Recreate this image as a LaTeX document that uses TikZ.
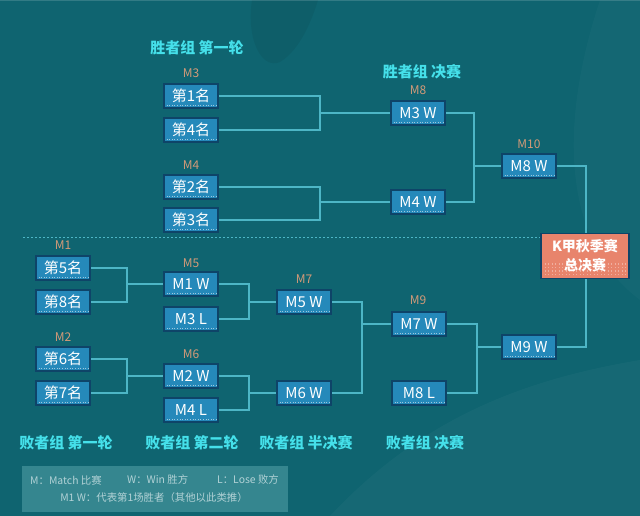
\documentclass[tikz,border=0pt]{standalone}
\usepackage{fontspec}
\setmainfont{Noto Sans CJK SC}
\usetikzlibrary{calc}
\definecolor{bg}{HTML}{0F6470}
\definecolor{boxfill}{HTML}{2589BA}
\definecolor{boxedge}{HTML}{0E4468}
\definecolor{conncol}{HTML}{4DB6C6}
\definecolor{lblcol}{HTML}{D39A78}
\definecolor{titlecol}{HTML}{45E0EA}
\definecolor{finalcol}{HTML}{E8846C}
\definecolor{legfill}{HTML}{3C8C95}
\definecolor{legtext}{HTML}{B2D2D6}
\tikzset{
  team/.style={draw=boxedge, line width=1.6pt, fill=boxfill, text=white,
    minimum width=54pt, minimum height=24pt, inner sep=0pt,
    font=\fontsize{15}{16}\selectfont,
    path picture={\draw[white, opacity=0.55, dotted, line width=0.6pt]
      ([yshift=2.5pt]path picture bounding box.south west) -- ([yshift=2.5pt]path picture bounding box.south east);}},
  mlabel/.style={text=lblcol, font=\fontsize{12}{13}\selectfont, inner sep=0pt},
  title/.style={text=titlecol, font=\fontsize{15}{16}\selectfont\bfseries, inner sep=0pt},
  conn/.style={draw=conncol, line width=1.1pt},
  legtxt/.style={text=legtext, font=\fontsize{10.4}{12}\selectfont, inner sep=0pt},
}
\begin{document}
\begin{tikzpicture}[x=1pt, y=-1pt]
\fill[bg] (0,0) rectangle (640,516);
\useasboundingbox (0,0) rectangle (640,516);
% decorative background shapes
\fill[black, opacity=0.06] (252,0) .. controls (246,40) and (262,70) .. (280,62) .. controls (300,50) and (312,20) .. (318,0) -- cycle;
\fill[white, opacity=0.03] (330,516) .. controls (420,420) and (520,380) .. (640,360) -- (640,516) -- cycle;
\fill[white, opacity=0.025] (600,0) .. controls (560,120) and (560,240) .. (640,300) -- (640,0) -- cycle;
\draw[white, opacity=0.15, line width=1pt] (0,0.5) -- (640,0.5);

% dashed separator
\draw[conncol, line width=0.7pt, dash pattern=on 2pt off 2pt] (23,237) -- (541,237);

% titles
\node[title] (tw1) at (197,48) {胜者组 第一轮};
\node[title] (twf) at (422,72) {胜者组 决赛};
\node[title] (tl1) at (66,443) {败者组 第一轮};
\node[title] (tl2) at (192,443) {败者组 第二轮};
\node[title] (tl3) at (306,443) {败者组 半决赛};
\node[title] (tl4) at (425,443) {败者组 决赛};

% match labels
\node[mlabel] (lm3) at (191,73) {M3};
\node[mlabel] (lm4) at (191,165) {M4};
\node[mlabel] (lm8) at (418,90) {M8};
\node[mlabel] (lm10) at (529,144) {M10};
\node[mlabel] (lm1) at (63,245) {M1};
\node[mlabel] (lm2) at (63,337) {M2};
\node[mlabel] (lm5) at (191,263) {M5};
\node[mlabel] (lm6) at (191,354) {M6};
\node[mlabel] (lm7) at (304,279) {M7};
\node[mlabel] (lm9) at (418,300) {M9};

% winners bracket boxes
\node[team] (p1) at (191,96) {第1名};
\node[team] (p4) at (191,130) {第4名};
\node[team] (p2) at (191,187) {第2名};
\node[team] (p3) at (191,220) {第3名};
\node[team] (m3w) at (418,113) {M3 W};
\node[team] (m4w) at (418,202) {M4 W};
\node[team] (m8w) at (529,166) {M8 W};

% losers bracket boxes
\node[team] (p5) at (63,268) {第5名};
\node[team] (p8) at (63,302) {第8名};
\node[team] (p6) at (63,359) {第6名};
\node[team] (p7) at (63,393) {第7名};
\node[team] (m1w) at (191,284) {M1 W};
\node[team] (m3l) at (191,319) {M3 L};
\node[team] (m2w) at (191,376) {M2 W};
\node[team] (m4l) at (191,410) {M4 L};
\node[team] (m5w) at (304,302) {M5 W};
\node[team] (m6w) at (304,393) {M6 W};
\node[team] (m7w) at (419,324) {M7 W};
\node[team] (m8l) at (419,393) {M8 L};
\node[team] (m9w) at (529,347) {M9 W};

% final
\node[draw=boxedge, line width=1.2pt, fill=finalcol, text=white,
  minimum width=88pt, minimum height=45pt, inner sep=0pt, align=center,
  font=\fontsize{14}{19}\selectfont\bfseries,
  path picture={
    \foreach \yy in {4,7.5,11,14.5}{
      \draw[white, opacity=0.35, line width=1.1pt, dash pattern=on 1.1pt off 2.4pt]
        ([yshift=\yy pt]path picture bounding box.south west) -- ([yshift=\yy pt]path picture bounding box.south east);}
  }] (final) at (585,256) {K甲秋季赛\\总决赛};

% connectors - winners
\coordinate (j1) at (320,113);
\coordinate (j2) at (320,202);
\coordinate (j3) at (474,166);
\draw[conn] (p1.east) -| (j1) |- (p4.east);
\draw[conn] (j1) -- (m3w.west);
\draw[conn] (p2.east) -| (j2) |- (p3.east);
\draw[conn] (j2) -- (m4w.west);
\draw[conn] (m3w.east) -| (j3) |- (m4w.east);
\draw[conn] (j3) -- (m8w.west);
\draw[conn] (m8w.east) -| (final.north -| 586,0);

% connectors - losers
\coordinate (k1) at (127,284);
\coordinate (k2) at (127,376);
\coordinate (k3) at (249,302);
\coordinate (k4) at (249,393);
\coordinate (k5) at (362,324);
\coordinate (k6) at (477,347);
\draw[conn] (p5.east) -| (k1) |- (p8.east);
\draw[conn] (k1) -- (m1w.west);
\draw[conn] (p6.east) -| (k2) |- (p7.east);
\draw[conn] (k2) -- (m2w.west);
\draw[conn] (m1w.east) -| (k3) |- (m3l.east);
\draw[conn] (k3) -- (m5w.west);
\draw[conn] (m2w.east) -| (k4) |- (m4l.east);
\draw[conn] (k4) -- (m6w.west);
\draw[conn] (m5w.east) -| (k5) |- (m6w.east);
\draw[conn] (k5) -- (m7w.west);
\draw[conn] (m7w.east) -| (k6) |- (m8l.east);
\draw[conn] (k6) -- (m9w.west);
\draw[conn] (m9w.east) -| (final.south -| 586,0);

% legend
\fill[legfill, opacity=0.85] (22,466) rectangle (288,512);
\node[legtxt, anchor=west] (lg1) at (30,480) {M：Match 比赛};
\node[legtxt, anchor=west] (lg2) at (127,480) {W：Win 胜方};
\node[legtxt, anchor=west] (lg3) at (217,480) {L：Lose 败方};
\node[legtxt] (lg4) at (154,498) {M1 W：代表第1场胜者（其他以此类推）};
\end{tikzpicture}
\end{document}
